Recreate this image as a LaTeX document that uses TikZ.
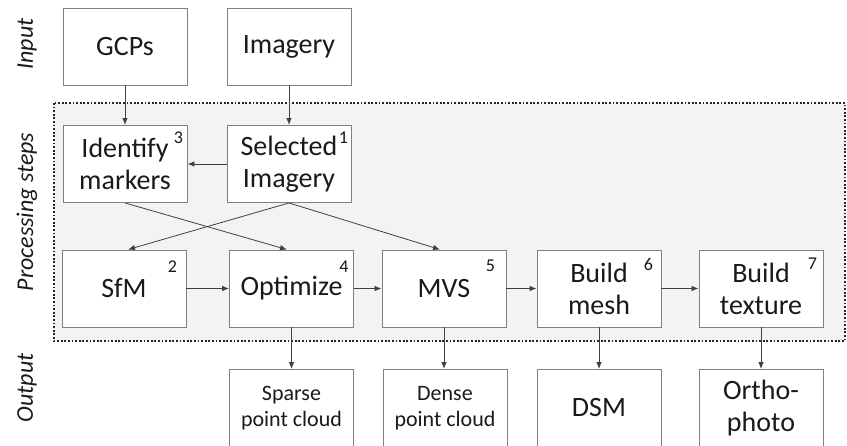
\documentclass[tikz,border=0pt]{standalone}
\usepackage{fontspec}
\setmainfont{Carlito}
\usetikzlibrary{arrows.meta}
\definecolor{boxline}{HTML}{808080}
\definecolor{arrline}{HTML}{404040}
\definecolor{procfill}{HTML}{F3F3F3}
\definecolor{txt}{HTML}{1A1A1A}
\tikzset{
  box/.style={draw=boxline, line width=0.9pt, fill=white, minimum width=124pt, minimum height=77pt,
    inner sep=0pt, align=center, text=txt, font=\fontsize{28}{32}\selectfont},
  outbox/.style={box, font=\fontsize{22}{26}\selectfont},
  bigout/.style={box},
  num/.style={inner sep=0pt, text=txt, font=\fontsize{18}{18}\selectfont},
  arr/.style={draw=arrline, line width=0.8pt, -{Latex[length=7pt,width=5.5pt]}},
  rowlabel/.style={rotate=90, text=txt, inner sep=0pt, font=\fontsize{24}{24}\selectfont\itshape},
  procarea/.style={draw=black!85, fill=procfill, line width=2pt, dash pattern=on 1.8pt off 1.8pt}
}
\begin{document}
\begin{tikzpicture}[x=1pt,y=-1pt]
\useasboundingbox (0,0) rectangle (847,446);
% processing area
\draw[procarea] (54,103) rectangle (845,341);
% row labels
\node[rowlabel] (linput) at (27,44) {Input};
\node[rowlabel] (lproc) at (27,212) {Processing steps};
\node[rowlabel] (lout) at (27,388) {Output};
% input
\node[box] (gcp) at (125,46.5) {GCPs};
\node[box] (img) at (289,46.5) {Imagery};
% processing
\node[box] (idm) at (125,164) {Identify\\markers};
\node[box] (sel) at (289,164) {Selected\\Imagery};
\node[box] (sfm) at (124,288.5) {SfM};
\node[box] (opt) at (291.5,288.5) {Optimize};
\node[box] (mvs) at (444,288.5) {MVS};
\node[box] (mesh) at (599,288.5) {Build\\mesh};
\node[box] (tex) at (761,288.5) {Build\\texture};
% numbers
\node[num] (n3) at ([shift={(-9,13)}]idm.north east) {3};
\node[num] (n1) at ([shift={(-8,13)}]sel.north east) {1};
\node[num] (n2) at ([shift={(-14,17)}]sfm.north east) {2};
\node[num] (n4) at ([shift={(-10,17)}]opt.north east) {4};
\node[num] (n5) at ([shift={(-16,16)}]mvs.north east) {5};
\node[num] (n6) at ([shift={(-13,15)}]mesh.north east) {6};
\node[num] (n7) at ([shift={(-11,14)}]tex.north east) {7};
% outputs
\node[outbox] (sparse) at (291.5,408) {Sparse\\point cloud};
\node[outbox] (dense) at (445,408) {Dense\\point cloud};
\node[bigout] (dsm) at (599,408) {DSM};
\node[bigout] (ortho) at (761,408) {Ortho-\\photo};
% connectors
\draw[arr] (gcp) -- (idm);
\draw[arr] (img) -- (sel);
\draw[arr] (sel) -- (idm);
\draw[arr] (idm.south) -- ([xshift=-4.5pt]opt.north);
\draw[arr] (sel.south) -- ([xshift=4pt]sfm.north);
\draw[arr] (sel.south) -- ([xshift=-4pt]mvs.north);
\draw[arr] (sfm) -- (opt);
\draw[arr] (opt) -- (mvs);
\draw[arr] (mvs) -- (mesh);
\draw[arr] (mesh) -- (tex);
\draw[arr] (opt.south) -- (sparse.north);
\draw[arr] (mvs.south) -- ([xshift=-1pt]dense.north);
\draw[arr] (mesh) -- (dsm);
\draw[arr] (tex) -- (ortho);
\end{tikzpicture}
\end{document}
